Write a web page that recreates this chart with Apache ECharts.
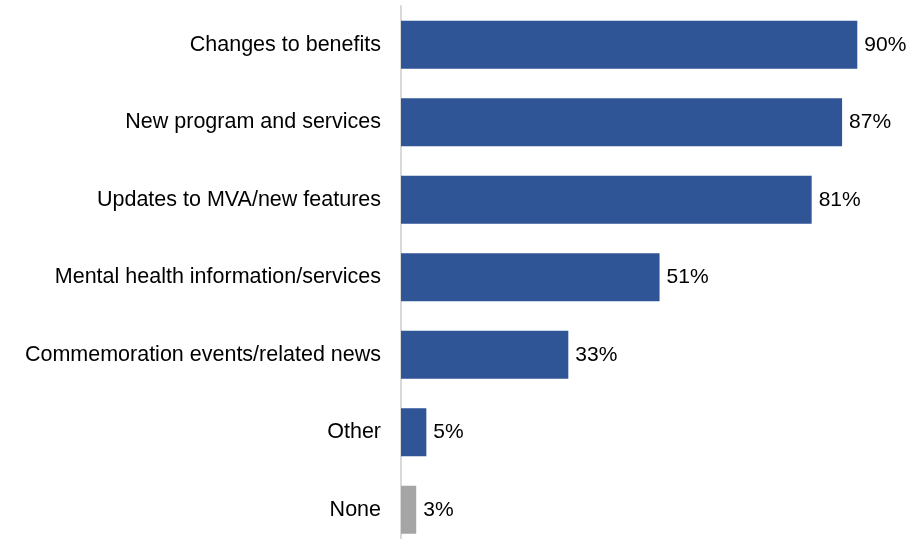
<!DOCTYPE html>
<html><head><meta charset="utf-8">
<script src="https://cdn.jsdelivr.net/npm/echarts@6/dist/echarts.min.js"></script>
<style>html,body{margin:0;padding:0;background:#fff}#c{width:912px;height:539px}</style>
</head><body><div id="c"></div>
<script>
const categories = ["Changes to benefits","New program and services","Updates to MVA/new features","Mental health information/services","Commemoration events/related news","Other","None"];
const values = [90,87,81,51,33,5,3];
const barColors = ["#2F5597","#2F5597","#2F5597","#2F5597","#2F5597","#2F5597","#A5A5A5"];
const chart = echarts.init(document.getElementById('c'));
const font = "'Liberation Sans', Arial, sans-serif";
chart.setOption({
  animation:false,
  grid:{left:401,width:507,top:6,height:542.5,containLabel:false,outerBoundsMode:'none'},
  xAxis:{type:'value',min:0,max:100,show:false},
  yAxis:{type:'category',data:categories,inverse:true,
    axisLine:{show:true,lineStyle:{color:'#D9D9D9',width:2}},
    axisTick:{show:false},
    axisLabel:{color:'#000',fontSize:21.5,fontFamily:font,margin:20}},
  series:[{type:'bar',barWidth:48,
    data:values.map((v,i)=>({value:v,itemStyle:{color:barColors[i]}})),
    label:{show:true,position:'right',distance:7,formatter:'{c}%',color:'#000',fontSize:21,fontFamily:font}}]
});
</script></body></html>
